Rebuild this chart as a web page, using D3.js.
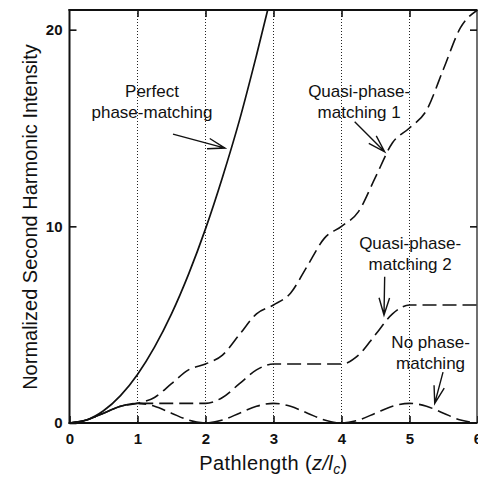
<!DOCTYPE html>
<html>
<head>
<meta charset="utf-8">
<script src="https://cdn.jsdelivr.net/npm/d3@7"></script>
<style>
  html, body { margin: 0; padding: 0; background: #fff; }
  svg { display: block; }
  text { font-family: "Liberation Sans", Arial, Helvetica, sans-serif; fill: #111; }
</style>
</head>
<body>
<svg id="chart" width="478" height="485"></svg>
<script>
// ---- data ----
const pathX = [0,0.25,0.5,0.75,1,1.25,1.5,1.75,2,2.25,2.5,2.75,3,3.25,3.5,3.75,4,4.25,4.5,4.75,5,5.25,5.5,5.75,6];
const perfectX = [0,0.25,0.5,0.75,1,1.25,1.5,1.75,2,2.25,2.5,2.75,3];
const perfect = [0,0.15,0.62,1.39,2.47,3.86,5.55,7.56,9.87,12.5,15.4,18.7,22.2];
const qpm1 = [0,0.15,0.5,0.85,1,1.3,2,2.7,3,3.45,4.5,5.55,6,6.6,8,9.4,10,10.75,12.5,14.25,15,15.9,18,20.1,21];
const qpm2 = [0,0.15,0.5,0.85,1,1,1,1,1,1.3,2,2.7,3,3,3,3,3,3.45,4.5,5.55,6,6,6,6,6];
const noPM = [0,0.15,0.5,0.85,1,0.85,0.5,0.15,0,0.15,0.5,0.85,1,0.85,0.5,0.15,0,0.15,0.5,0.85,1,0.85,0.5,0.15,0];
const xTicks = [0,1,2,3,4,5,6];
const yTicks = [0,10,20];
const gridX = [1,2,3,4,5];
const xTitle = "Pathlength";
const yTitle = "Normalized Second Harmonic Intensity";

// annotations in data units
const labels = [
  {lines:["Perfect","phase-matching"], x:1.213, y:16.58},
  {lines:["Quasi-phase-","matching 1"], x:4.26, y:16.58},
  {lines:["Quasi-phase-","matching 2"], x:5.01, y:8.85},
  {lines:["No phase-","matching"], x:5.31, y:3.81}
];
const arrows = [
  {from:[1.522,14.69], to:[2.287,13.98]},
  {from:[4.194,15.32], to:[4.635,13.79]},
  {from:[4.635,7.44], to:[4.625,5.49]},
  {from:[5.493,2.59], to:[5.371,1.0]}
];

// ---- drawing ----
const svg = d3.select("#chart");
const L = 69.5, R = 477.5, T = 10, B = 423;
const x = d3.scaleLinear().domain([0,6]).range([L, R]);
const y = d3.scaleLinear().domain([0,21]).range([B, T]);

svg.append("rect").attr("width",478).attr("height",485).attr("fill","#fff");

svg.append("defs").append("clipPath").attr("id","clip")
  .append("rect").attr("x",L).attr("y",T).attr("width",R-L).attr("height",B-T);

// dotted gridlines
svg.append("g").selectAll("line").data(gridX).join("line")
  .attr("x1",d=>x(d)).attr("x2",d=>x(d)).attr("y1",T).attr("y2",B)
  .attr("stroke","#222").attr("stroke-width",1).attr("stroke-dasharray","1,2");

// axes
const xAxis = svg.append("g").attr("transform",`translate(0,${B})`)
  .call(d3.axisBottom(x).tickValues(xTicks).tickFormat(d3.format("d")).tickSize(-7).tickPadding(10));
const xTop = svg.append("g").attr("transform",`translate(0,${T})`)
  .call(d3.axisTop(x).tickValues(gridX).tickFormat("").tickSize(-7));
const yAxis = svg.append("g").attr("transform",`translate(${L},0)`)
  .call(d3.axisLeft(y).tickValues(yTicks).tickFormat(d3.format("d")).tickSize(-7).tickPadding(7));
const yRight = svg.append("g").attr("transform",`translate(${R-0.5},0)`)
  .call(d3.axisRight(y).tickValues([10,20]).tickFormat("").tickSize(-7));
[xAxis,xTop,yAxis,yRight].forEach(g=>{
  g.select(".domain").remove();
  g.selectAll(".tick line").attr("stroke","#111").attr("stroke-width",1.6);
  g.selectAll(".tick text").attr("font-size",15).attr("font-weight","bold")
    .attr("font-family","'Liberation Sans', Arial, sans-serif").attr("fill","#111");
});

// frame
const frame = svg.append("g").attr("stroke","#111").attr("fill","none");
frame.append("line").attr("x1",L).attr("x2",L).attr("y1",T-1).attr("y2",B+1).attr("stroke-width",2);
frame.append("line").attr("x1",L-1).attr("x2",R).attr("y1",B).attr("y2",B).attr("stroke-width",2);
frame.append("line").attr("x1",L-1).attr("x2",R).attr("y1",T).attr("y2",T).attr("stroke-width",2);
frame.append("line").attr("x1",R-0.5).attr("x2",R-0.5).attr("y1",T).attr("y2",B).attr("stroke-width",1.2);

// curves
const line = d3.line().x(d=>x(d[0])).y(d=>y(d[1])).curve(d3.curveMonotoneX);
const plot = svg.append("g").attr("clip-path","url(#clip)").attr("fill","none").attr("stroke","#111");
plot.append("path").datum(perfectX.map((v,i)=>[v,perfect[i]])).attr("d",line).attr("stroke-width",1.7);
const dashed = [
  {vals:qpm1, off:0},
  {vals:qpm2, off:7},
  {vals:noPM, off:14}
];
dashed.forEach(s=>{
  plot.append("path").datum(pathX.map((v,i)=>[v,s.vals[i]])).attr("d",line)
    .attr("stroke-width",1.6).attr("stroke-dasharray","14,6").attr("stroke-dashoffset",s.off);
});

// labels
labels.forEach(l=>{
  const t = svg.append("text").attr("text-anchor","middle").attr("font-size",17)
    .attr("x",x(l.x)).attr("y",y(l.y));
  l.lines.forEach((s,i)=>{
    t.append("tspan").attr("x",x(l.x)).attr("dy",i===0?0:21).text(s);
  });
});

// arrows (open V heads)
arrows.forEach(a=>{
  const x1=x(a.from[0]), y1=y(a.from[1]), x2=x(a.to[0]), y2=y(a.to[1]);
  const ang = Math.atan2(y1-y2, x1-x2);
  const len = 18, h = 17*Math.PI/180;
  const b1 = [x2+len*Math.cos(ang+h), y2+len*Math.sin(ang+h)];
  const b2 = [x2+len*Math.cos(ang-h), y2+len*Math.sin(ang-h)];
  svg.append("path").attr("fill","none").attr("stroke","#111").attr("stroke-width",1.4)
    .attr("d",`M${x1},${y1}L${x2},${y2}M${b1[0]},${b1[1]}L${x2},${y2}L${b2[0]},${b2[1]}`);
});

// axis titles
const xt = svg.append("text").attr("text-anchor","middle").attr("font-size",20)
  .attr("x",(L+R)/2).attr("y",470).attr("letter-spacing",0.4);
xt.append("tspan").text(xTitle+" (");
xt.append("tspan").attr("font-style","italic").text("z/l");
xt.append("tspan").attr("font-style","italic").attr("font-size",14).attr("dy",4).text("c");
xt.append("tspan").attr("dy",-4).text(")");

svg.append("text").attr("text-anchor","middle").attr("font-size",20)
  .attr("transform",`translate(37,217) rotate(-90)`).text(yTitle);
</script>
</body>
</html>
